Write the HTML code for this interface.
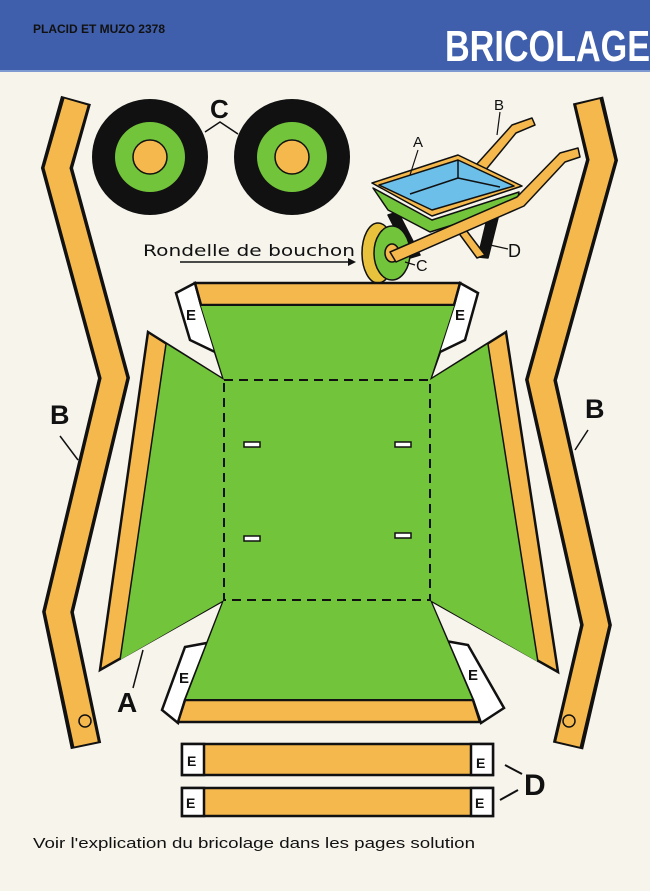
<!DOCTYPE html>
<html><head><meta charset="utf-8"><style>
html,body{margin:0;padding:0;background:#f7f4ec;}
body{width:650px;height:891px;overflow:hidden;position:relative;font-family:"Liberation Sans",sans-serif;}
</style></head><body>
<svg width="650" height="891" viewBox="0 0 650 891" xmlns="http://www.w3.org/2000/svg" style="position:absolute;left:0;top:0">
<rect x="0" y="0" width="650" height="891" fill="#f7f4ec"/>
<rect x="0" y="0" width="650" height="70" fill="#3f5eab"/>
<rect x="0" y="70" width="650" height="2" fill="#7f9ad0"/>
<text x="33" y="33" font-size="12" font-weight="bold" fill="#111" font-family="Liberation Sans Narrow, Liberation Sans, sans-serif" textLength="132" lengthAdjust="spacingAndGlyphs">PLACID ET MUZO 2378</text>
<text x="445" y="61" font-size="44" font-weight="bold" fill="#fff" textLength="205" lengthAdjust="spacingAndGlyphs">BRICOLAGE</text>

<!-- B strips -->
<g fill="none" stroke-linejoin="miter" stroke-miterlimit="10">
<polyline points="76,100 57,168 114,378 58,612 86,746" stroke="#111" stroke-width="31"/>
<polyline points="76,102 57,168 114,378 58,612 86,744" stroke="#f5b84c" stroke-width="24"/>
<polyline points="588,100 602,160 541,380 596,625 568,746" stroke="#111" stroke-width="31"/>
<polyline points="588,102 602,160 541,380 596,625 568,744" stroke="#f5b84c" stroke-width="24"/>
</g>
<circle cx="85" cy="721" r="6" fill="#f5b84c" stroke="#111" stroke-width="1.5"/>
<circle cx="569" cy="721" r="6" fill="#f5b84c" stroke="#111" stroke-width="1.5"/>
<text x="50" y="424" font-size="27" font-weight="bold" fill="#111">B</text>
<line x1="60" y1="436" x2="78" y2="460" stroke="#111" stroke-width="1.5"/>
<text x="585" y="418" font-size="27" font-weight="bold" fill="#111">B</text>
<line x1="588" y1="430" x2="575" y2="450" stroke="#111" stroke-width="1.5"/>

<!-- wheels -->
<circle cx="150" cy="157" r="58" fill="#111"/>
<circle cx="150" cy="157" r="35" fill="#72c43a"/>
<circle cx="150" cy="157" r="17" fill="#f5b84c" stroke="#111" stroke-width="1.5"/>
<circle cx="292" cy="157" r="58" fill="#111"/>
<circle cx="292" cy="157" r="35" fill="#72c43a"/>
<circle cx="292" cy="157" r="17" fill="#f5b84c" stroke="#111" stroke-width="1.5"/>
<text x="210" y="118" font-size="26" font-weight="bold" fill="#111">C</text>
<polyline points="205,132 220,122 238,134" fill="none" stroke="#111" stroke-width="1.5"/>

<!-- wheelbarrow -->
<g stroke="#111" stroke-width="1.5" stroke-linejoin="round">
<polygon points="476,165 512,125 532,118 535,125 516,133 484,172" fill="#f5b84c"/>
<polygon points="388,215 398,212 420,255 410,258" fill="#111"/>
<polygon points="488,215 498,218 488,258 478,257" fill="#111"/>
<polygon points="455,228 463,226 485,255 477,258" fill="#f5b84c"/>
<polygon points="373,188 432,220 519,192 517,205 430,232 388,210" fill="#72c43a"/>
<polygon points="372,183 458,155 522,186 432,216" fill="#f5b84c"/>
<polygon points="379,185 458,160 514,186 432,210" fill="#6bbfe9"/>
<polyline points="410,194 458,178 500,187" fill="none"/>
<line x1="458" y1="160" x2="458" y2="178"/>
<ellipse cx="378" cy="253" rx="16" ry="30" fill="#e8c23c"/>
<ellipse cx="392" cy="253" rx="18" ry="27" fill="#72c43a"/>
<ellipse cx="392" cy="253" rx="7" ry="9" fill="#f5b84c"/>
<polygon points="390,252 517,197 560,153 578,148 580,157 565,162 524,206 396,262" fill="#f5b84c"/>
</g>
<text x="413" y="147" font-size="15" fill="#111">A</text>
<line x1="418" y1="150" x2="410" y2="175" stroke="#111" stroke-width="1.2"/>
<text x="494" y="110" font-size="15" fill="#111">B</text>
<line x1="500" y1="112" x2="497" y2="135" stroke="#111" stroke-width="1.2"/>
<text x="508" y="257" font-size="18" fill="#111">D</text>
<line x1="490" y1="245" x2="508" y2="249" stroke="#111" stroke-width="1.2"/>
<text x="416" y="271" font-size="16" fill="#111">C</text>
<line x1="405" y1="262" x2="415" y2="265" stroke="#111" stroke-width="1.2"/>
<text x="143" y="256" font-size="16" fill="#111" textLength="212" lengthAdjust="spacingAndGlyphs" font-family="DejaVu Sans, sans-serif">Rondelle de bouchon</text>
<line x1="180" y1="262" x2="350" y2="262" stroke="#111" stroke-width="1.5"/>
<polygon points="356,262 348,258 348,266" fill="#111"/>

<!-- main piece -->
<g stroke="#111" stroke-width="2.5" stroke-linejoin="miter">
<polygon points="195,283 176,293 190,340 215,352 224,380 201,305" fill="#fff"/>
<polygon points="460,283 478,293 465,340 440,352 430,380 454,305" fill="#fff"/>
<polygon points="224,600 212,642 185,647 162,710 178,723 185,700" fill="#fff"/>
<polygon points="430,600 440,640 468,645 504,708 481,723 473,700" fill="#fff"/>
<polygon points="148,332 224,380 224,600 100,670" fill="#f5b84c"/>
<polygon points="506,332 430,380 430,600 558,672" fill="#f5b84c"/>
<polygon points="195,283 460,283 454,305 201,305" fill="#f5b84c"/>
<polygon points="185,700 473,700 480,722 178,722" fill="#f5b84c"/>
</g>
<polygon points="166,344 224,380 224,600 120,660" fill="#72c43a"/>
<polygon points="488,344 430,380 430,600 538,662" fill="#72c43a"/>
<polygon points="201,306 454,306 430,380 430,600 472,699 186,699 224,600 224,380" fill="#72c43a"/>
<line x1="166" y1="344" x2="120" y2="660" stroke="#111" stroke-width="1.5"/>
<line x1="488" y1="344" x2="538" y2="662" stroke="#111" stroke-width="1.5"/>
<rect x="224" y="380" width="206" height="220" fill="none" stroke="#111" stroke-width="2" stroke-dasharray="9,6"/>
<g fill="#fff" stroke="#111" stroke-width="1.5">
<rect x="244" y="442" width="16" height="5"/>
<rect x="395" y="442" width="16" height="5"/>
<rect x="244" y="536" width="16" height="5"/>
<rect x="395" y="533" width="16" height="5"/>
</g>
<g font-size="15" fill="#111" font-weight="bold">
<text x="186" y="320">E</text>
<text x="455" y="320">E</text>
<text x="179" y="683">E</text>
<text x="468" y="680">E</text>
</g>
<text x="117" y="712" font-size="28" font-weight="bold" fill="#111">A</text>
<line x1="133" y1="688" x2="143" y2="650" stroke="#111" stroke-width="1.5"/>

<!-- D strips -->
<g stroke="#111" stroke-width="2.5">
<rect x="182" y="744" width="311" height="31" fill="#f5b84c"/>
<rect x="182" y="788" width="311" height="28" fill="#f5b84c"/>
<rect x="182" y="744" width="22" height="31" fill="#fff"/>
<rect x="471" y="744" width="22" height="31" fill="#fff"/>
<rect x="182" y="788" width="22" height="28" fill="#fff"/>
<rect x="471" y="788" width="22" height="28" fill="#fff"/>
</g>
<g font-size="14" fill="#111" font-weight="bold">
<text x="187" y="766">E</text><text x="476" y="768">E</text>
<text x="186" y="808">E</text><text x="475" y="808">E</text>
</g>
<text x="524" y="795" font-size="30" font-weight="bold" fill="#111">D</text>
<line x1="505" y1="765" x2="522" y2="774" stroke="#111" stroke-width="2"/>
<line x1="500" y1="800" x2="518" y2="790" stroke="#111" stroke-width="2"/>

<text x="33" y="848" font-size="15" fill="#111" textLength="442" lengthAdjust="spacingAndGlyphs">Voir l'explication du bricolage  dans les pages solution</text>
</svg>
</body></html>
